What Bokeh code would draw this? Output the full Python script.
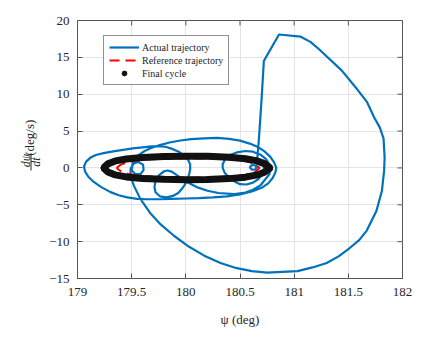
import math
from bokeh.plotting import figure
from bokeh.layouts import row
from bokeh.models import Range1d, FixedTicker
from bokeh.core.properties import value
from bokeh.embed import file_html
from bokeh.resources import INLINE

# ---- data ----
traj_psi = [180.66, 180.64, 180.61, 180.59, 180.61, 180.645, 180.655, 180.675, 180.70, 180.72,
            180.86, 181.06, 181.15, 181.23, 181.44, 181.58, 181.67, 181.74, 181.79, 181.825, 181.835,
            181.83, 181.81, 181.76, 181.67, 181.60, 181.51, 181.41, 181.30, 181.17, 181.03,
            180.75, 180.61, 180.47, 180.32, 180.17, 180.03, 179.89, 179.77, 179.67, 179.58,
            179.52, 179.49,
            179.49, 179.52, 179.56, 179.605, 179.61, 179.58, 179.535, 179.50,
            179.51, 179.53, 179.57, 179.62, 179.68, 179.76, 179.85, 179.95, 180.05, 180.17,
            180.29, 180.40, 180.50, 180.59, 180.67, 180.73, 180.78, 180.815, 180.835, 180.825,
            180.80, 180.76, 180.70, 180.61, 180.50, 180.38, 180.25, 180.12, 180.00, 179.87,
            179.75, 179.64, 179.55, 179.46, 179.38, 179.30, 179.22, 179.15, 179.10, 179.07,
            179.06, 179.08, 179.12, 179.17, 179.24, 179.33, 179.42, 179.51, 179.60, 179.68,
            179.75, 179.82, 179.88, 179.94, 179.98, 180.02, 180.04, 180.04, 180.03, 180.01,
            179.99, 179.96, 179.93, 179.88, 179.82, 179.76, 179.72, 179.71, 179.72, 179.75,
            179.80, 179.83, 179.87, 179.93, 180.01, 180.10, 180.20, 180.30, 180.45, 180.55,
            180.62, 180.69, 180.73, 180.77, 180.78, 180.77, 180.74, 180.69, 180.62, 180.55,
            180.47, 180.40, 180.36, 180.34, 180.34, 180.36, 180.40, 180.45, 180.50, 180.56,
            180.62, 180.67, 180.70, 180.72, 180.72, 180.68, 180.62, 180.52, 180.40, 180.20,
            180.00, 179.80, 179.60, 179.45, 179.35, 179.28, 179.25, 179.28, 179.35, 179.45,
            179.60, 179.80, 180.00, 180.20, 180.40, 180.55, 180.66, 180.73, 180.77]
traj_rate = [0.0, 0.35, 0.4, 0.1, -0.25, -0.2, 0.5, 4.0, 9.5, 14.5,
             18.1, 17.8, 17.1, 16.1, 13.2, 10.7, 9.0, 6.8, 5.5, 4.0, 1.4,
             -0.4, -3.1, -5.8, -8.5, -9.8, -10.9, -12.0, -12.9, -13.5, -14.0,
             -14.2, -14.0, -13.6, -12.9, -11.9, -10.7, -9.2, -7.7, -6.1, -4.2,
             -2.4, -1.1,
             -0.1, 0.6, 0.8, 0.45, -0.3, -0.85, -0.85, -0.3,
             0.7, 1.3, 1.8, 2.3, 2.7, 3.1, 3.45, 3.72, 3.9, 4.02,
             4.07, 3.95, 3.7, 3.3, 2.8, 2.2, 1.5, 0.75, 0.0, -0.7,
             -1.4, -2.1, -2.7, -3.2, -3.6, -3.85, -4.0, -4.1, -4.15, -4.2,
             -4.25, -4.25, -4.2, -4.0, -3.7, -3.25, -2.6, -1.9, -1.2, -0.5,
             0.2, 0.85, 1.4, 1.75, 2.0, 2.25, 2.45, 2.65, 2.8, 2.92,
             2.95, 2.85, 2.55, 2.15, 1.7, 1.1, 0.5, -0.2, -0.9, -1.6,
             -2.3, -2.9, -3.4, -3.8, -4.0, -3.85, -3.3, -2.6, -1.8, -1.0,
             -0.45, -0.35, -0.5, -1.1, -1.9, -2.6, -3.1, -3.4, -3.55, -3.35,
             -2.95, -2.35, -1.6, -0.9, -0.2, 0.5, 1.2, 1.8, 2.2, 2.3,
             2.1, 1.7, 1.1, 0.5, 0.0, -0.7, -1.3, -1.85, -2.2, -2.25,
             -2.0, -1.5, -0.9, -0.3, 0.3, 0.75, 1.1, 1.35, 1.5, 1.6,
             1.65, 1.58, 1.45, 1.22, 0.95, 0.55, 0.0, -0.55, -0.95, -1.22,
             -1.45, -1.57, -1.6, -1.57, -1.45, -1.25, -0.95, -0.55, 0.0]

ref_psi = [179.36, 179.40, 179.47, 179.60, 179.80, 180.00, 180.20, 180.40, 180.55, 180.64, 180.68,
           180.64, 180.55, 180.40, 180.20, 180.00, 179.80, 179.60, 179.47, 179.40, 179.36]
ref_rate = [0.0, 0.45, 0.82, 1.1, 1.26, 1.3, 1.28, 1.17, 0.95, 0.55, 0.0,
            -0.55, -0.95, -1.17, -1.28, -1.3, -1.26, -1.1, -0.82, -0.45, 0.0]

cyc_psi = [179.24, 179.28, 179.35, 179.45, 179.60, 179.80, 180.00, 180.20, 180.40, 180.55, 180.66, 180.73, 180.78,
           180.73, 180.66, 180.55, 180.40, 180.20, 180.00, 179.80, 179.60, 179.45, 179.35, 179.28, 179.24]
cyc_rate = [0.0, 0.55, 0.95, 1.22, 1.42, 1.55, 1.6, 1.58, 1.45, 1.25, 0.95, 0.55, 0.0,
            -0.55, -0.95, -1.25, -1.45, -1.57, -1.6, -1.55, -1.42, -1.22, -0.95, -0.55, 0.0]

x_ticks = [179, 179.5, 180, 180.5, 181, 181.5, 182]
x_tick_labels = ["179", "179.5", "180", "180.5", "181", "181.5", "182"]
y_ticks = [-15, -10, -5, 0, 5, 10, 15, 20]
y_tick_labels = ["\u221215", "\u221210", "\u22125", "0", "5", "10", "15", "20"]

FONT = "Liberation Serif"
AX = "#262626"
TICK = "#555555"
LEFT_W = 46

# ---------------- main axes ----------------
p = figure(width=432 - LEFT_W, height=339, output_backend="svg", toolbar_location=None,
           x_range=Range1d(179, 182), y_range=Range1d(-15, 20),
           min_border_left=75 - LEFT_W, min_border_right=30, min_border_top=20, min_border_bottom=61)
p.background_fill_color = "white"
p.border_fill_color = "white"
p.outline_line_color = TICK
p.outline_line_width = 1
p.xgrid.grid_line_color = "#e4e4e4"
p.ygrid.grid_line_color = "#e4e4e4"

def style_axis(ax, ticks, labels):
    ax.ticker = FixedTicker(ticks=ticks)
    ax.major_label_overrides = {t: l for t, l in zip(ticks, labels)}
    ax.axis_line_color = None
    ax.major_tick_in = 5
    ax.major_tick_out = 0
    ax.minor_tick_line_color = None
    ax.major_tick_line_color = TICK
    ax.major_label_text_font = FONT
    ax.major_label_text_font_size = "13px"
    ax.major_label_text_color = AX

style_axis(p.xaxis[0], x_ticks, x_tick_labels)
style_axis(p.yaxis[0], y_ticks, y_tick_labels)
p.xaxis[0].major_label_standoff = 9
p.yaxis[0].major_label_standoff = 8
p.xaxis[0].axis_label = "\u03c8 (deg)"
p.xaxis[0].axis_label_text_font = FONT
p.xaxis[0].axis_label_text_font_style = "normal"
p.xaxis[0].axis_label_text_font_size = "13px"
p.xaxis[0].axis_label_text_color = AX
p.xaxis[0].axis_label_standoff = 13

# inward ticks on the top and right edges of the box
xt_len = 0.68   # 5 px in y data units
yt_len = 0.046  # 5 px in x data units
p.segment(x0=x_ticks, y0=[20] * len(x_ticks), x1=x_ticks, y1=[20 - xt_len] * len(x_ticks),
          line_color=TICK, line_width=1)
p.segment(x0=[182] * len(y_ticks), y0=y_ticks, x1=[182 - yt_len] * len(y_ticks), y1=y_ticks,
          line_color=TICK, line_width=1)

# data
p.line(traj_psi, traj_rate, line_color="#0072BD", line_width=2.2, legend_label="Actual trajectory")
p.line(ref_psi, ref_rate, line_color="#FF0000", line_width=2, line_dash="10 6",
       legend_label="Reference trajectory")
p.line(cyc_psi, cyc_rate, line_color="#111111", line_width=7)
p.scatter(cyc_psi, cyc_rate, size=5, fill_color="#111111", line_color="#111111",
          legend_label="Final cycle")

lg = p.legend[0]
lg.location = (26, 193)
lg.label_text_font = FONT
lg.label_text_font_size = "10px"
lg.label_text_color = AX
lg.glyph_width = 30
lg.glyph_height = 12
lg.label_height = 12
lg.label_standoff = 3
lg.spacing = 1
lg.padding = 5
lg.margin = 0
lg.border_line_color = AX
lg.border_line_width = 1
lg.background_fill_alpha = 1

# ---------------- y-axis label strip (shares the y scale of the main axes) ----------------
lab = figure(width=LEFT_W, height=339, output_backend="svg", toolbar_location=None,
             x_range=Range1d(0, LEFT_W), y_range=p.y_range,
             x_axis_type=None, y_axis_type=None,
             min_border_left=0, min_border_right=0, min_border_top=20, min_border_bottom=61)
lab.outline_line_color = None
lab.xgrid.visible = False
lab.ygrid.visible = False
lab.background_fill_color = "white"
lab.border_fill_color = "white"

lab.text(x=[25.5], y=[1.0], text=["d\u03c8"], angle=math.pi / 2, text_align="center",
         text_baseline="middle", text_font=value(FONT), text_font_style="italic",
         text_font_size=value("12px"), text_color=AX)
lab.segment(x0=[30.5], y0=[2.0], x1=[30.5], y1=[-0.35], line_color=AX, line_width=1)
lab.text(x=[35], y=[0.8], text=["dt"], angle=math.pi / 2, text_align="center",
         text_baseline="middle", text_font=value(FONT), text_font_style="italic",
         text_font_size=value("12px"), text_color=AX)
lab.text(x=[28.5], y=[4.1], text=["(deg/s)"], angle=math.pi / 2, text_align="center",
         text_baseline="middle", text_font=value(FONT), text_font_size=value("13px"),
         text_color=AX)

layout = row(lab, p, spacing=0)
open("out.html", "w").write(file_html(layout, INLINE))
